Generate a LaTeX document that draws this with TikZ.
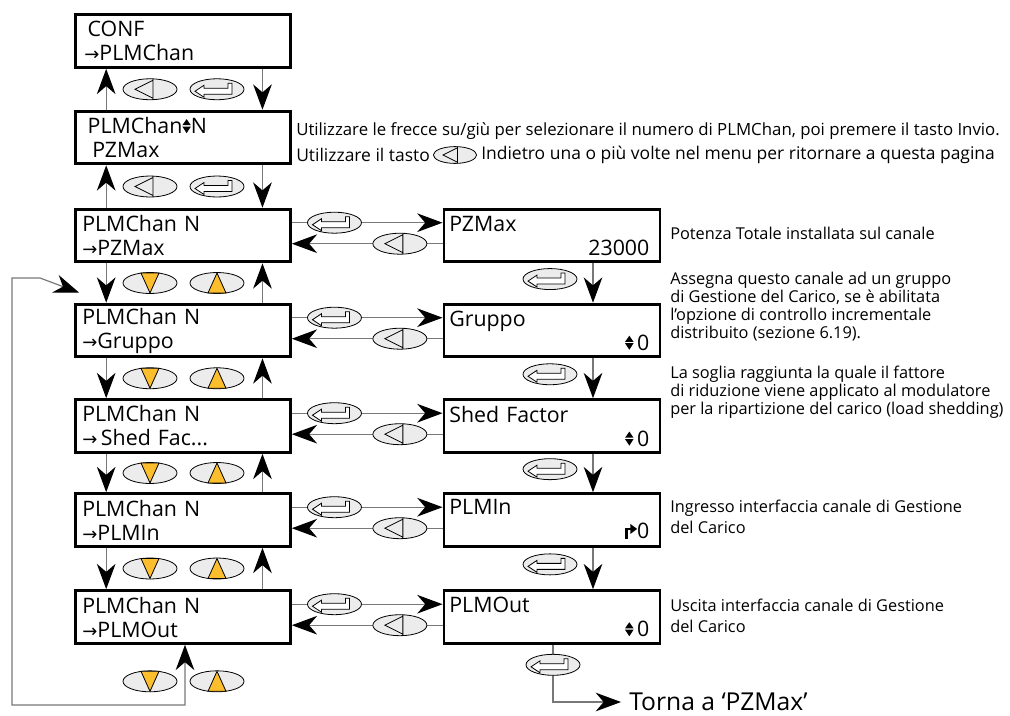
\documentclass[tikz,border=0pt]{standalone}
\usepackage{fontspec}
\setmainfont{Open Sans}
\newfontfamily\symfont{DejaVu Sans}
\usetikzlibrary{arrows.meta, shapes.geometric, positioning, calc}

\definecolor{keyfill}{RGB}{236,236,236}
\definecolor{keyyellow}{RGB}{253,190,45}
\definecolor{wiregray}{RGB}{120,120,120}

% small glyphs used inside the menu boxes
\newcommand{\arr}{{\symfont\fontsize{13.5}{13.5}\selectfont →}}
\newcommand{\updn}{\tikz[x=1pt,y=1pt,baseline=0pt]{\fill (0,6.2)--(3.2,10.8)--(6.4,6.2)--cycle (0,5.2)--(3.2,0.3)--(6.4,5.2)--cycle;}}
\newcommand{\bentarr}{\tikz[x=1pt,y=1pt,baseline=0pt]{\draw[line width=2pt] (1,0)--(1,7.5)--(4.5,7.5); \fill (4,3.8)--(9,7.5)--(4,11.2)--cycle;}}

\tikzset{
  lbox/.style={draw, line width=2.2pt, minimum width=161pt, minimum height=39.5pt,
    text width=151pt, inner xsep=5pt, inner ysep=0pt, align=left,
    font=\fontsize{16}{18}\selectfont},
  rbox/.style={lbox, minimum width=162pt, text width=154pt, inner xsep=4pt},
  desc/.style={inner sep=0pt, anchor=north west, align=left, font=\fontsize{12.25}{13.5}\selectfont},
  hint/.style={inner sep=0pt, anchor=west, font=\fontsize{12.6}{13.5}\selectfont},
  wire/.style={draw=wiregray, line width=0.9pt},
  arrowline/.style={wire, ->},
  loopline/.style={wire, <->},
  keyshape/.style={ellipse, draw, fill=keyfill, line width=0.6pt,
    minimum width=40.5pt, minimum height=15.75pt, inner sep=0pt},
  backkey/.pic={\node[keyshape] {};
    \draw[line width=0.6pt] (-15,0)--(3,-9)--(3,9)--cycle (3,-10.4)--(3,10.4);},
  enterkey/.pic={\node[keyshape] {};
    \draw[fill=white, line width=0.6pt] (-22,2)--(-13,-4)--(-13,-1)--(11,-1)--(11,-6)
      --(15,-6)--(15,5)--(-13,5)--(-13,8)--cycle;},
  downkey/.pic={\node[keyshape] {};
    \draw[fill=keyyellow, line width=0.6pt] (-9,-10)--(9,-10)--(0,10)--cycle;},
  upkey/.pic={\node[keyshape] {};
    \draw[fill=keyyellow, line width=0.6pt] (-9,10)--(9,10)--(0,-10)--cycle;},
}

\begin{document}
\begin{tikzpicture}[x=0.75pt, y=-0.75pt,
  >={Stealth[length=19pt, width=14pt, inset=6pt, black]}]
\useasboundingbox (0,0) rectangle (1010,715);

% left column
\node[lbox] (conf)   at (183,41)  {\hspace*{4pt}CONF\\\hspace*{1.5pt}\arr PLMChan};
\node[lbox] (chsel)  at (183,137.5) {\hspace*{4pt}PLMChan\updn N\\\hspace*{7.5pt}PZMax};
\node[lbox] (pzmax)  at (183,235.5) {PLMChan N\\\arr PZMax};
\node[lbox] (gruppo) at (183,330.5) {PLMChan N\\\arr Gruppo};
\node[lbox] (shed)   at (183,426)   {PLMChan N\\\arr\,Shed Fac...};
\node[lbox] (plmin)  at (183,520)   {PLMChan N\\\arr PLMIn};
\node[lbox] (plmout) at (183,617)   {PLMChan N\\\arr PLMOut};

% right column
\node[rbox] (vpzmax)  at (552,235.5) {PZMax\\\hskip 0pt plus 1filll 23000\kern4pt};
\node[rbox] (vgruppo) at (552,330.5) {Gruppo\\\hskip 0pt plus 1filll \updn\,0\kern4pt};
\node[rbox] (vshed)   at (552,426)   {Shed Factor\\\hskip 0pt plus 1filll \updn\,0\kern4pt};
\node[rbox] (vplmin)  at (552,520)   {PLMIn\\\hskip 0pt plus 1filll \bentarr0\kern4pt};
\node[rbox] (vplmout) at (552,617)   {PLMOut\\\hskip 0pt plus 1filll \updn\,0\kern4pt};

% top of the menu
\foreach \a/\b in {conf/chsel, chsel/pzmax} {
  \draw[arrowline] ([xshift=24pt]\b.north west) -- ([xshift=24pt]\a.south west);
  \draw[arrowline] ([xshift=-22pt]\a.south east) -- ([xshift=-22pt]\b.north east);
  \pic at ($(\a.south)!0.5!(\b.north)+(-33,0)$) {backkey};
  \pic at ($(\a.south)!0.5!(\b.north)+(34,0)$) {enterkey};
}

% scrolling through the parameters
\foreach \a/\b in {pzmax/gruppo, gruppo/shed, shed/plmin, plmin/plmout} {
  \draw[arrowline] ([xshift=24pt]\a.south west) -- ([xshift=24pt]\b.north west);
  \draw[arrowline] ([xshift=-22pt]\b.north east) -- ([xshift=-22pt]\a.south east);
  \pic at ($(\a.south)!0.5!(\b.north)+(-33,0)$) {downkey};
  \pic at ($(\a.south)!0.5!(\b.north)+(34,0)$) {upkey};
  \draw[arrowline] ([xshift=30.75pt]v\a.south) -- ([xshift=30.75pt]v\b.north);
  \pic at ($(v\a.south)!0.4!(v\b.north)+(-2,0)$) {enterkey};
}

% into and out of each value
\foreach \m in {pzmax, gruppo, shed, plmin, plmout} {
  \draw[arrowline] ([yshift=-11.25pt]\m.north east) -- ([yshift=-11.25pt]v\m.north west);
  \draw[arrowline] ([yshift=-27pt]v\m.north west) -- ([yshift=-27pt]\m.north east);
  \pic at ([xshift=32pt, yshift=-11.25pt]\m.north east) {enterkey};
  \pic at ([xshift=-32pt, yshift=-27pt]v\m.north west) {backkey};
}

% wrap round from the last to the first parameter
\coordinate (lpbot)  at (12,705);
\coordinate (lptop)  at (12,278);
\coordinate (lpbend) at (40,278);
\draw[loopline] ([xshift=1.5pt]plmout.south) |- (lpbot) -- (lptop) -- (lpbend)
  -- ([shift={(5,-10)}]gruppo.north west);
\pic at ([shift={(-33,36.5)}]plmout.south) {downkey};
\pic at ([shift={(34,36.5)}]plmout.south) {upkey};

% back to the first value
\node[anchor=west, inner xsep=6pt, font=\fontsize{18.5}{18.5}\selectfont] (torna) at (621,702) {Torna a ‘PZMax’};
\draw[arrowline] ([xshift=0.75pt]vplmout.south) |- (torna.west);
\pic at ([xshift=0.75pt, yshift=-15pt]vplmout.south) {enterkey};

% notes
\node[hint] (hint1) at (296,131)
  {Utilizzare le frecce su/giù per selezionare il numero di PLMChan, poi premere il tasto Invio.};
\node[hint, font=\fontsize{13.1}{13.5}\selectfont] (hint2a) at (296,155) {Utilizzare il tasto};
\pic[scale=0.8, transform shape] at (455,155) {backkey};
\node[hint, font=\fontsize{13.1}{13.5}\selectfont] (hint2b) at (481,155)
  {Indietro una o più volte nel menu per ritornare a questa pagina};
\node[desc, anchor=west] (notepz) at (670,233) {Potenza Totale installata sul canale};
\node[desc] (notegr) at (670,271.5)
  {Assegna questo canale ad un gruppo\\di Gestione del Carico, se è abilitata\\l’opzione di controllo incrementale\\distribuito (sezione 6.19).};
\node[desc] (notesh) at (670,366)
  {La soglia raggiunta la quale il fattore\\di riduzione viene applicato al modulatore\\per la ripartizione del carico (load shedding)};
\node[desc, font=\fontsize{12.25}{15.75}\selectfont] (notein) at (670,499.5)
  {Ingresso interfaccia canale di Gestione\\del Carico};
\node[desc, font=\fontsize{12.25}{15.75}\selectfont] (noteout) at (670,598.5)
  {Uscita interfaccia canale di Gestione\\del Carico};
\end{tikzpicture}
\end{document}
